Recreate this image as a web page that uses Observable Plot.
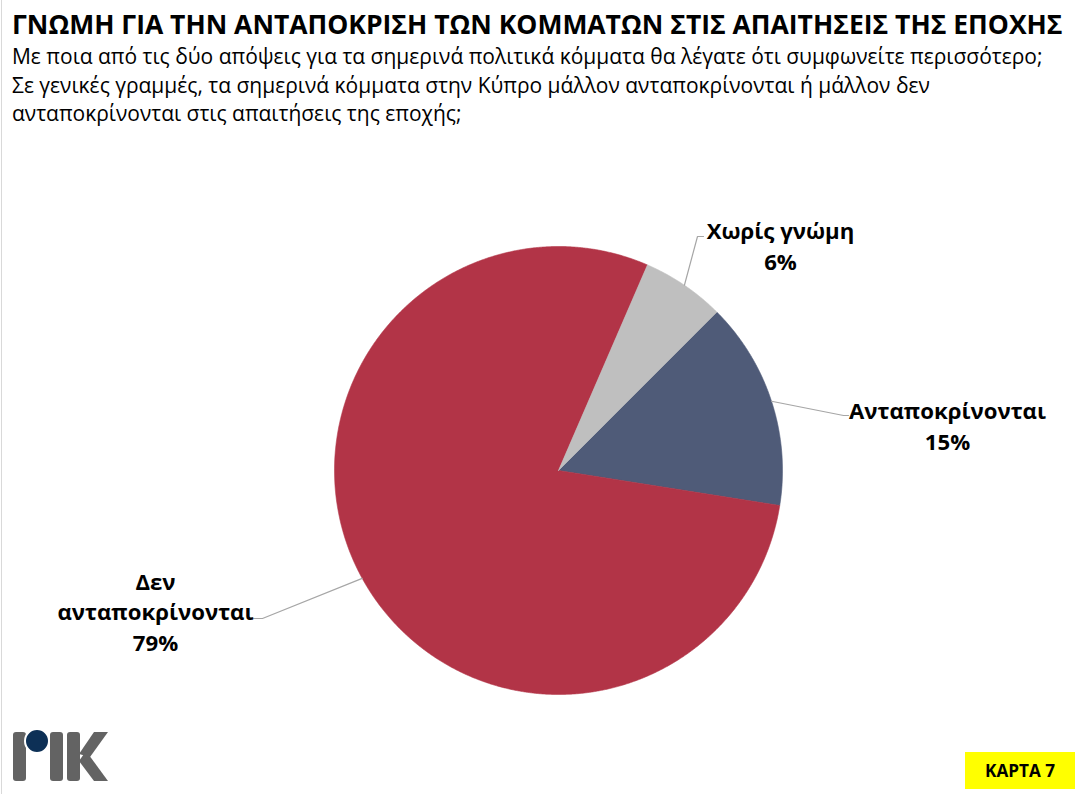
<!DOCTYPE html>
<html>
<head>
<meta charset="utf-8">
<script src="https://cdn.jsdelivr.net/npm/d3@7"></script>
<script src="https://cdn.jsdelivr.net/npm/@observablehq/plot@0.6"></script>
<style>
  html, body { margin: 0; padding: 0; background: #fff; }
  body { width: 1079px; height: 794px; position: relative; overflow: hidden; font-family: "Open Sans", sans-serif; color: #000; }
  #frame { position: absolute; left: 1px; top: 0; width: 1px; height: 794px; background: #d9d9d9; z-index: 5; }
  #title { position: absolute; left: 12px; top: 9px; font-weight: 700; white-space: nowrap; line-height: 30px; }
  #subtitle { position: absolute; left: 12px; top: 42px; white-space: nowrap; line-height: 28.7px; }
  #chart { position: absolute; left: 0; top: 140px; }
  #logo { position: absolute; left: 0; top: 720px; }
  #badge { position: absolute; left: 965px; top: 752px; width: 110px; height: 37px; background: #ffff00;
           font-weight: 700; display: flex; align-items: center; justify-content: center; }
</style>
</head>
<body>
<div id="title"></div>
<div id="subtitle"></div>
<div id="chart"></div>
<svg id="logo" width="120" height="70" viewBox="0 720 120 70">
  <rect x="13" y="732" width="13" height="49" rx="3" fill="#636363"/>
  <rect x="50" y="732" width="13" height="49" rx="3" fill="#636363"/>
  <rect x="67" y="732" width="13" height="49" rx="3" fill="#636363"/>
  <polygon points="79,754 94,732 108,732 90,757" fill="#636363"/>
  <polygon points="86,751 108,781 94,781 79,761" fill="#636363"/>
  <circle cx="37" cy="741" r="12" fill="#0d3056" stroke="#fff" stroke-width="2"/>
</svg>
<div id="badge">ΚΑΡΤΑ 7</div>
<div id="frame"></div>
<script>
// ---- data ----
const titleText = "ΓΝΩΜΗ ΓΙΑ ΤΗΝ ΑΝΤΑΠΟΚΡΙΣΗ ΤΩΝ ΚΟΜΜΑΤΩΝ ΣΤΙΣ ΑΠΑΙΤΗΣΕΙΣ ΤΗΣ ΕΠΟΧΗΣ";
const subtitleLines = [
  "Με ποια από τις δύο απόψεις για τα σημερινά πολιτικά κόμματα θα λέγατε ότι συμφωνείτε περισσότερο;",
  "Σε γενικές γραμμές, τα σημερινά κόμματα στην Κύπρο μάλλον ανταποκρίνονται ή μάλλον δεν",
  "ανταποκρίνονται στις απαιτήσεις της εποχής;"
];
const labels = ["Ανταποκρίνονται", "Δεν ανταποκρίνονται", "Χωρίς γνώμη"];
const values = [15, 79, 6];

// ---- styles / layout ----
const colors = ["#4F5B78", "#B23447", "#BFBFBF"];
const startDeg = 45;
const W = 1079, H = 654;
const R = 224;              // pie radius in px
const cx = 558, cy = 330;   // pie centre in px (within svg)
// leader elbow, leader end and text-block centre, px offsets from the centre (y down)
const labelLayout = [
  {elbow: [285, -55], end: [290, -55], text: [389, -46], wrap: false},
  {elbow: [-296, 148], end: [-305, 148], text: [-403, 140], wrap: true},
  {elbow: [139, -234], end: [145, -234], text: [222, -226], wrap: false}
];

function fit(text, weight, target) {
  const ctx = document.createElement("canvas").getContext("2d");
  ctx.font = `${weight} 100px "Open Sans"`;
  return 100 * target / ctx.measureText(text).width;
}

const titleSize = fit(titleText, 700, 1051);
const subSize = fit(subtitleLines[0], 400, 1031);
const labelSize = fit("Ανταποκρίνονται", 700, 197);
const badgeSize = fit("ΚΑΡΤΑ 7", 700, 70);

const t = document.getElementById("title");
t.textContent = titleText; t.style.fontSize = titleSize + "px";
const s = document.getElementById("subtitle");
s.innerHTML = subtitleLines.map(l => `<div>${l}</div>`).join("");
s.style.fontSize = subSize + "px";
document.getElementById("badge").style.fontSize = badgeSize + "px";

// ---- geometry from the data ----
const arcs = d3.pie().sort(null)
  .startAngle(startDeg * Math.PI / 180)
  .endAngle(startDeg * Math.PI / 180 + 2 * Math.PI)(values);

const polar = (a, r) => ({x: r * Math.sin(a), y: r * Math.cos(a)});

const slicePoints = [];
arcs.forEach((a, i) => {
  const n = Math.max(2, Math.ceil((a.endAngle - a.startAngle) / (Math.PI / 720)));
  slicePoints.push({label: labels[i], x: 0, y: 0});
  for (let k = 0; k <= n; k++) {
    const ang = a.startAngle + (a.endAngle - a.startAngle) * k / n;
    slicePoints.push({label: labels[i], ...polar(ang, 1)});
  }
  slicePoints.push({label: labels[i], x: 0, y: 0});
});

const toUnit = ([dx, dy]) => ({x: dx / R, y: -dy / R});
const leaderPoints = [];
arcs.forEach((a, i) => {
  const mid = (a.startAngle + a.endAngle) / 2;
  const L = labelLayout[i];
  leaderPoints.push({label: labels[i], ...polar(mid, 1)});
  leaderPoints.push({label: labels[i], ...toUnit(L.elbow)});
  leaderPoints.push({label: labels[i], ...toUnit(L.end)});
});

const labelData = labels.map((lab, i) => ({
  label: lab,
  text: (labelLayout[i].wrap ? lab.replace(" ", "\n") : lab) + "\n" + values[i] + "%",
  ...toUnit(labelLayout[i].text)
}));

const chart = Plot.plot({
  width: W, height: H, margin: 0,
  style: {fontFamily: "Open Sans", background: "white", overflow: "visible"},
  x: {domain: [-cx / R, (W - cx) / R], axis: null},
  y: {domain: [-(H - cy) / R, cy / R], axis: null},
  color: {domain: labels, range: colors},
  marks: [
    Plot.line(slicePoints, {x: "x", y: "y", z: "label", fill: "label", stroke: "label", strokeWidth: 0.6, curve: "linear"}),
    Plot.line(leaderPoints, {x: "x", y: "y", z: "label", stroke: "#a6a6a6", strokeWidth: 1.2, curve: "linear"}),
    Plot.text(labelData, {x: "x", y: "y", text: "text", fill: "#000", fontSize: labelSize, fontWeight: 700,
      textAnchor: "middle", lineAnchor: "middle", lineHeight: 30.5 / labelSize})
  ]
});
document.getElementById("chart").appendChild(chart);
</script>
</body>
</html>
